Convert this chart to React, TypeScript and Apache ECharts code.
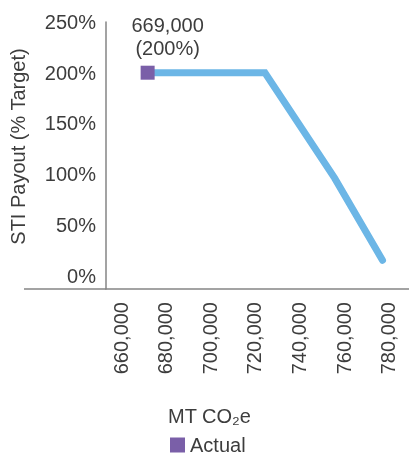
import React, { useEffect, useRef } from "react";
import * as echarts from "echarts";

// Payout curve
const curveX = [672000, 724700, 756000, 777500];
const curvePayout = [200, 200, 96, 15];

// Actual point
const actualX = [672000];
const actualPayout = [200];
const actualLabels = ["669,000\n(200%)"];

// Tick labels
const xTicks = [660000, 680000, 700000, 720000, 740000, 760000, 780000];
const yTicks = [0, 50, 100, 150, 200, 250];

const FONT = "'Liberation Sans', Arial, sans-serif";
const TEXT = "#3d3d3d";
const FS = 20;

export default function App() {
  const ref = useRef<HTMLDivElement>(null);
  useEffect(() => {
    if (!ref.current) return;
    const chart = echarts.init(ref.current, undefined, { renderer: "svg" });
    chart.setOption({
      animation: false,
      textStyle: { fontFamily: FONT, color: TEXT },
      grid: { left: 106, right: 0, top: 22, bottom: 166, containLabel: false },
      graphic: [
        {
          type: "line",
          shape: { x1: 24, y1: 289, x2: 106, y2: 289 },
          style: { stroke: "#858585", lineWidth: 1.5 },
        },
      ],
      legend: {
        data: [{ name: "Actual", icon: "rect" }],
        left: 170,
        top: 435,
        padding: 0,
        itemWidth: 15,
        itemHeight: 15,
        itemGap: 8,
        textStyle: { fontFamily: FONT, fontSize: FS, lineHeight: 20, color: TEXT },
      },
      xAxis: {
        type: "value",
        min: 653300,
        max: 789400,
        name: "MT CO₂e",
        nameLocation: "middle",
        nameGap: 117,
        nameTextStyle: { fontFamily: FONT, fontSize: FS, color: TEXT, padding: [0, 96, 0, 0] },
        axisLine: { show: true, onZero: false, lineStyle: { color: "#858585", width: 1.5 } },
        axisTick: { show: false },
        splitLine: { show: false },
        axisLabel: {
          customValues: xTicks,
          rotate: 90,
          margin: 13,
          fontSize: FS,
          fontFamily: FONT,
          color: TEXT,
          formatter: (v: number) => v.toLocaleString("en-US"),
        },
      },
      yAxis: {
        type: "value",
        min: -13.3,
        max: 250,
        name: "STI Payout (% Target)",
        nameLocation: "middle",
        nameGap: 78,
        nameRotate: 90,
        nameTextStyle: { fontFamily: FONT, fontSize: FS, color: TEXT, padding: [0, 0, 0, 18] },
        axisLine: { show: true, lineStyle: { color: "#858585", width: 1.5 } },
        axisTick: { show: false },
        splitLine: { show: false },
        axisLabel: {
          customValues: yTicks,
          margin: 10,
          fontSize: FS,
          fontFamily: FONT,
          color: TEXT,
          formatter: (v: number) => `${v}%`,
        },
      },
      series: [
        {
          name: "Payout curve",
          type: "line",
          data: curveX.map((x, i) => [x, curvePayout[i]]),
          showSymbol: false,
          symbol: "none",
          lineStyle: { color: "#6cb6e6", width: 7, cap: "round", join: "miter" },
          z: 2,
        },
        {
          name: "Actual",
          type: "scatter",
          data: actualX.map((x, i) => [x, actualPayout[i]]),
          symbol: "rect",
          symbolSize: 14,
          itemStyle: { color: "#7a5fa8", opacity: 1 },
          label: {
            show: true,
            position: "top",
            offset: [20, -1],
            formatter: () => actualLabels[0],
            fontFamily: FONT,
            fontSize: FS,
            lineHeight: 23,
            color: TEXT,
            align: "center",
          },
          z: 3,
        },
      ],
    });
    return () => chart.dispose();
  }, []);
  return (
    <div
      ref={ref}
      style={{ position: "fixed", left: 0, top: 0, width: 409, height: 455 }}
    />
  );
}
